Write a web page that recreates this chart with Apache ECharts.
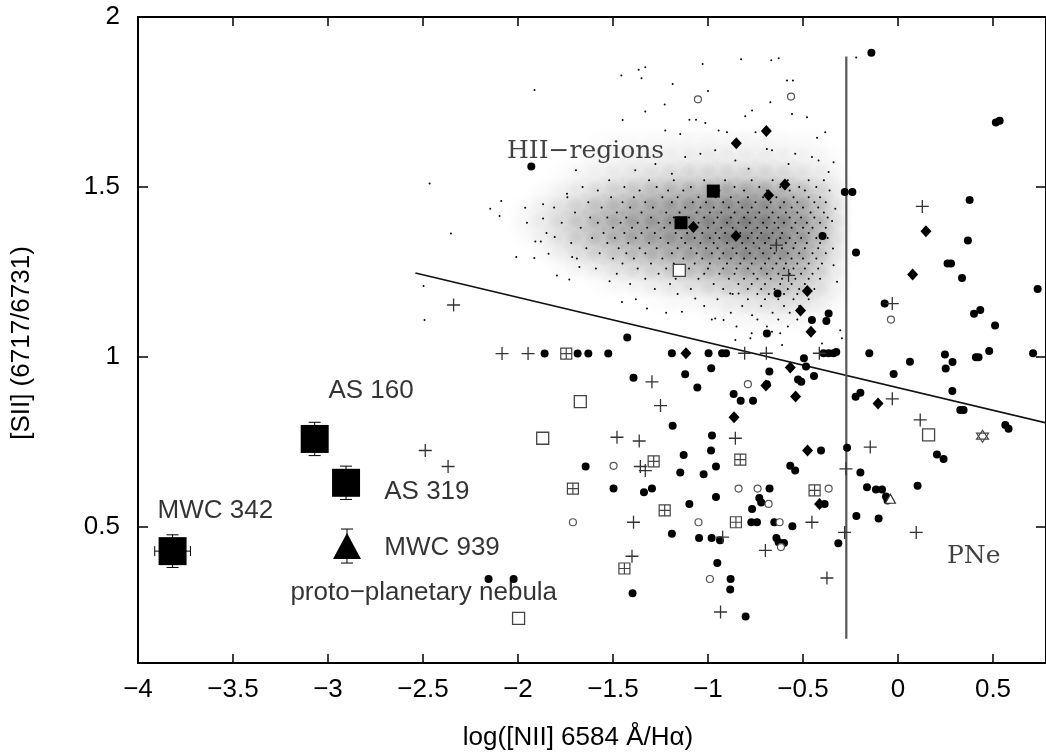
<!DOCTYPE html>
<html>
<head>
<meta charset="utf-8">
<script src="https://cdn.jsdelivr.net/npm/echarts@6/dist/echarts.min.js"></script>
<style>html,body{margin:0;padding:0;background:#fff}#c{width:1046px;height:755px}</style>
</head>
<body>
<div id="c"></div>
<script>
// ---------- data ----------
const xTicks = [-4, -3.5, -3, -2.5, -2, -1.5, -1, -0.5, 0, 0.5];
const yTicks = [0.5, 1, 1.5, 2];

// filled dots
const dots = [[-1.93,1.56],[-0.14,1.895],[0.515,1.69],[0.535,1.695],[-0.28,1.485],[-0.24,1.485],[0.377,1.462],
[0.368,1.343],[-0.221,1.307],[0.261,1.275],[0.279,1.275],[0.337,1.232],[0.735,1.2],[-0.07,1.157],[0.40,1.127],[0.433,1.138],[0.511,1.093],
[-0.151,1.011],[0.063,0.986],[0.247,1.007],[0.287,0.985],[0.251,0.966],[0.41,0.999],[0.424,0.999],[0.48,1.018],[0.711,1.011],[-0.023,0.95],[0.286,0.90],[-0.223,0.883],[-0.198,0.895],[0.328,0.844],[0.345,0.844],[0.565,0.80],[0.582,0.789],[-0.268,0.733],
[0.205,0.713],[0.24,0.70],[-0.198,0.66],[-0.163,0.617],[-0.116,0.61],[-0.084,0.61],[-0.063,0.59],[-0.055,0.578],[0.103,0.621],[-0.219,0.532],[-0.102,0.525],[-0.314,0.452],
[-0.397,1.356],[-0.634,1.187],[-0.365,1.128],[-0.377,1.106],[-0.453,1.109],[-0.69,1.069],[-1.425,1.057],[-1.19,1.011],[-0.997,1.011],[-0.926,1.011],[-0.905,1.011],[-0.392,1.011],[-0.365,1.011],[-0.339,1.011],[-0.325,1.015],[-0.495,0.996],[-0.484,0.972],[-0.442,0.944],[-0.677,0.957],[-0.983,0.967],[-1.392,0.939],[-1.12,0.949],[-1.056,0.91],[-0.69,0.92],[-0.526,0.934],[-0.509,0.927],[-0.865,0.891],[-0.828,0.871],[-0.763,0.871],[-1.186,0.798],[-0.979,0.769],
[-1.86,1.01],[-1.686,1.01],[-1.63,1.01],[-1.525,1.01],
[-1.644,0.678],[-1.497,0.613],[-2.155,0.347],[-2.023,0.347],
[-1.128,0.712],[-0.984,0.725],[-0.567,0.68],[-0.541,0.666],[-0.405,0.725],[-1.146,0.66],[-1.023,0.655],[-0.958,0.678],[-1.337,0.602],[-1.295,0.613],[-0.676,0.613],[-0.958,0.588],[-0.73,0.585],[-0.72,0.572],[-1.098,0.568],[-0.768,0.553],[-0.386,0.568],[-0.772,0.514],[-0.742,0.514],[-0.651,0.514],[-0.556,0.502],[-1.19,0.48],[-1.047,0.468],[-0.981,0.468],[-0.937,0.461],[-0.64,0.468],[-0.628,0.455],[-0.6,0.453],[-0.951,0.394],[-0.881,0.347],[-0.883,0.316],[-1.397,0.305],[-0.802,0.237]];

const diamonds = [[-0.693,1.665],[-0.851,1.629],[-0.595,1.507],[-0.681,1.4755],[-1.077,1.382],[0.147,1.37],[0.077,1.2425],[-0.105,0.863],[-0.853,1.356],[-0.477,1.194],[-0.513,1.137],[-0.458,1.074],[-1.116,1.011],[-0.567,0.969],[-0.695,0.916],[-0.539,0.884],[-0.863,0.823],[-0.476,0.725],[-0.413,0.568]];

const filledSquares = [[-0.972,1.488],[-1.142,1.395]];

const openSquares = [[-1.151,1.255],[0.161,0.771],[-1.672,0.869],[-1.87,0.761],[-1.997,0.231]];

const boxedPlus = [[-1.746,1.01],[-1.711,0.613],[-1.286,0.693],[-0.83,0.698],[-0.439,0.608],[-1.228,0.549],[-0.853,0.514],[-1.44,0.378]];

const openCircles = [[-1.053,1.758],[-0.563,1.766],[-0.037,1.11],[-0.79,0.92],[-1.497,0.68],[-1.711,0.514],[-0.839,0.613],[-0.739,0.613],[-0.365,0.613],[-0.681,0.568],[-1.05,0.514],[-0.623,0.514],[-0.616,0.441],[-0.99,0.347]];

const pluses = [[0.128,1.443],[-0.03,1.157],[-0.03,0.877],[0.117,0.815],[-0.146,0.735],[-0.274,0.671],[-0.281,0.484],[0.096,0.484],[-0.374,0.35],
[-0.64,1.329],[-0.576,1.24],[-0.807,1.011],[-0.693,1.011],[-0.414,1.011],[-1.295,0.927],[-1.25,0.857],[-0.856,0.761],[-1.362,0.753],[-1.479,0.764],
[-2.339,1.153],[-2.084,1.01],[-1.947,1.01],[-2.488,0.725],[-2.368,0.678],
[-1.356,0.678],[-1.33,0.666],[-1.392,0.514],[-0.923,0.47],[-0.698,0.431],[-1.4,0.414],[-0.934,0.25],[-0.453,0.514]];

const stars = [[0.445,0.767]];
const openTriangles = [[-0.04,0.583]];

// objects of this work: [x, y, xErr, yErr]
const bigSquares = [[-3.818,0.429,0.094,0.048],[-3.07,0.759,0,0.049],[-2.905,0.63,0,0.049]];
const bigTriangles = [[-2.9,0.444,0,0.05]];

// dividing lines
const hiiLine = [[-2.54,1.247],[0.78,0.806]];
const pneLine = [[-0.272,0.171],[-0.272,1.8835]];

// labels: [x, y, text]
const sansLabels = [[-3.897,0.549,'MWC 342'],[-2.998,0.901,'AS 160'],[-2.704,0.602,'AS 319'],[-2.704,0.440,'MWC 939'],[-3.198,0.305,'proto\u2212planetary nebula']];
const serifLabels = [[-2.058,1.6055,'HII\u2212regions'],[0.258,0.413,'PNe']];

// HII region cloud: density rows [yCentre, firstXCentre, densities at 0.1 steps]
const cloudDensity = [
 [1.625,-1.55,[0.03,0.05,0.05,0.06,0.06,0.07,0.07,0.07,0.07,0.06,0.05,0.04]],
 [1.575,-1.65,[0.04,0.06,0.08,0.1,0.1,0.12,0.12,0.13,0.13,0.13,0.12,0.1,0.08,0.05]],
 [1.525,-1.75,[0.05,0.08,0.12,0.16,0.2,0.24,0.26,0.28,0.3,0.3,0.3,0.28,0.24,0.18,0.1]],
 [1.475,-1.85,[0.06,0.12,0.2,0.28,0.35,0.42,0.48,0.52,0.56,0.6,0.62,0.62,0.58,0.5,0.38,0.2]],
 [1.425,-1.95,[0.06,0.14,0.25,0.35,0.45,0.52,0.58,0.62,0.66,0.7,0.75,0.78,0.78,0.74,0.65,0.5,0.25]],
 [1.375,-1.95,[0.06,0.14,0.25,0.36,0.46,0.54,0.6,0.65,0.7,0.75,0.8,0.85,0.85,0.82,0.72,0.55,0.28]],
 [1.325,-1.85,[0.08,0.18,0.28,0.36,0.44,0.5,0.56,0.62,0.68,0.74,0.8,0.82,0.78,0.66,0.48,0.24]],
 [1.275,-1.75,[0.06,0.12,0.18,0.25,0.3,0.36,0.42,0.48,0.55,0.62,0.66,0.64,0.55,0.38,0.18]],
 [1.225,-1.55,[0.05,0.08,0.12,0.16,0.2,0.26,0.32,0.38,0.44,0.46,0.4,0.28,0.12]],
 [1.175,-1.25,[0.04,0.06,0.08,0.12,0.16,0.2,0.24,0.24,0.18,0.08]],
 [1.125,-0.95,[0.04,0.06,0.08,0.1,0.1,0.06]]
];

// HII region cloud: individual specks, by row [y, xs]
const cloudRows = [
 [1.52,[-1.52,-1.31,-1.18,-1.02,-0.91,-0.77,-0.66,-0.58,-0.47,-0.39]],
 [1.50,[-1.66,-1.44,-1.27,-1.09,-0.98,-0.86,-0.73,-0.62,-0.52,-0.43]],
 [1.49,[-1.58,-1.36,-1.21,-1.13,-0.94,-0.81,-0.69,-0.57,-0.49,-0.36]],
 [1.47,[-1.74,-1.51,-1.39,-1.24,-1.16,-1.05,-0.96,-0.88,-0.79,-0.71,-0.64,-0.55,-0.47,-0.41]],
 [1.455,[-1.63,-1.45,-1.33,-1.19,-1.08,-1.01,-0.92,-0.84,-0.75,-0.67,-0.6,-0.53,-0.44,-0.38]],
 [1.44,[-1.81,-1.56,-1.41,-1.29,-1.12,-1.04,-0.97,-0.89,-0.82,-0.77,-0.69,-0.62,-0.56,-0.5,-0.42]],
 [1.425,[-1.7,-1.48,-1.35,-1.22,-1.15,-1.06,-0.99,-0.93,-0.86,-0.79,-0.73,-0.66,-0.59,-0.53,-0.46,-0.39]],
 [1.41,[-1.62,-1.53,-1.43,-1.3,-1.18,-1.1,-1.02,-0.95,-0.88,-0.81,-0.75,-0.68,-0.63,-0.57,-0.51,-0.44,-0.37]],
 [1.395,[-1.77,-1.58,-1.46,-1.37,-1.26,-1.2,-1.13,-1.05,-0.97,-0.9,-0.84,-0.78,-0.71,-0.65,-0.6,-0.54,-0.48,-0.41]],
 [1.38,[-1.67,-1.5,-1.4,-1.32,-1.23,-1.08,-1.0,-0.93,-0.87,-0.8,-0.74,-0.69,-0.63,-0.56,-0.5,-0.45,-0.38]],
 [1.365,[-1.85,-1.55,-1.44,-1.35,-1.28,-1.17,-1.11,-1.03,-0.96,-0.91,-0.83,-0.77,-0.72,-0.66,-0.61,-0.53,-0.47,-0.4]],
 [1.35,[-1.61,-1.49,-1.38,-1.25,-1.14,-1.07,-0.99,-0.94,-0.86,-0.79,-0.74,-0.68,-0.62,-0.57,-0.51,-0.43,-0.37]],
 [1.335,[-1.72,-1.53,-1.42,-1.31,-1.21,-1.12,-1.04,-0.97,-0.9,-0.82,-0.76,-0.7,-0.64,-0.59,-0.54,-0.48,-0.41]],
 [1.32,[-1.64,-1.47,-1.36,-1.27,-1.16,-1.09,-1.01,-0.95,-0.87,-0.8,-0.73,-0.67,-0.61,-0.55,-0.49,-0.42]],
 [1.305,[-1.57,-1.43,-1.33,-1.19,-1.06,-0.98,-0.92,-0.85,-0.78,-0.71,-0.65,-0.58,-0.52,-0.45,-0.38]],
 [1.29,[-1.69,-1.5,-1.39,-1.24,-1.13,-1.03,-0.94,-0.88,-0.81,-0.75,-0.68,-0.62,-0.56,-0.5,-0.43]],
 [1.275,[-1.45,-1.3,-1.18,-1.07,-0.99,-0.9,-0.83,-0.77,-0.7,-0.64,-0.59,-0.53,-0.47,-0.4]],
 [1.26,[-1.59,-1.37,-1.22,-1.1,-1.0,-0.92,-0.85,-0.79,-0.72,-0.66,-0.6,-0.55,-0.49,-0.42]],
 [1.245,[-1.48,-1.26,-1.14,-1.02,-0.94,-0.86,-0.76,-0.69,-0.63,-0.57,-0.51,-0.45]],
 [1.23,[-1.33,-1.17,-1.05,-0.89,-0.81,-0.74,-0.67,-0.61,-0.54,-0.47,-0.41]],
 [1.215,[-1.41,-1.2,-0.97,-0.84,-0.77,-0.7,-0.62,-0.56,-0.49]],
 [1.2,[-1.28,-1.09,-0.92,-0.79,-0.72,-0.65,-0.58,-0.52,-0.44]],
 [1.185,[-1.16,-0.87,-0.74,-0.68,-0.6,-0.53]],
 [1.17,[-1.38,-0.95,-0.79,-0.7,-0.63,-0.55,-0.47]],
 [1.15,[-1.02,-0.82,-0.72,-0.6,-0.52]],
 [1.13,[-1.22,-0.88,-0.66,-0.57]],
 [1.11,[-0.98,-0.74,-0.63,-0.53]],
 [1.09,[-0.85,-0.69,-0.58]],
 [1.07,[-0.77,-0.62]]
];

const haloDots = [[-1.913,1.785],[-2.465,1.51],[-2.088,1.459],[-2.146,1.436],[-2.097,1.415],[-1.962,1.439],[-1.953,1.395],[-1.868,1.449],[-1.868,1.407],[-1.742,1.48],[-1.695,1.549],[-2.353,1.363],[-2.009,1.294],[-1.914,1.291],[-1.839,1.304],[-1.909,1.34],[-1.88,1.34],[-1.807,1.353],[-1.795,1.24],[-1.73,1.228],[-1.677,1.265],[-1.715,1.294],[-1.518,1.223],[-2.497,1.209],[-2.492,1.109],
[-1.456,1.828],[-1.365,1.845],[-1.33,1.852],[-1.35,1.82],[-1.186,1.803],[-1.028,1.862],[-0.826,1.876],[-0.667,1.873],[-0.628,1.879],[-0.584,1.813],[-0.553,1.813],[-0.479,1.705],[-1.228,1.743],[-1.33,1.722],[-1.449,1.697],[-1.098,1.698],[-1.063,1.698],[-1.0,1.782],[-1.014,1.688],[-0.768,1.725],[-0.804,1.708],[-0.672,1.749],[-0.558,1.715],[-0.426,1.645],[-0.383,1.661],[-1.146,1.656],[-1.225,1.666],[-0.944,1.666],[-0.9,1.661],[-1.04,1.598],[-0.962,1.608],[-0.75,1.661],[-0.69,1.612],[-0.663,1.608],[-0.541,1.598],[-0.453,1.588],[-1.12,1.588],[-1.383,1.549],[-1.277,1.568],[-1.19,1.539],[-0.856,1.578],[-0.786,1.554],[-0.576,1.568],[-0.418,1.578],[-0.365,1.544],
[-0.339,1.573],[-0.33,1.436],[-0.347,1.4],[-0.22,1.881],[-0.342,1.319],[-0.339,1.27],[-0.321,1.221],[-0.304,1.079],[-0.295,1.055],
[-0.856,1.05],[-0.777,1.055],[-0.663,1.074],[-0.61,1.035],[-0.4,1.04],[-1.453,1.162],[-1.321,1.143],[-1.137,1.133],[-1.067,1.172],[-0.962,1.113],[-0.918,1.109],[-0.883,1.187],[-0.839,1.187],[-0.768,1.123]];

// ---------- build ----------
function blob(a) {
  return {type: 'radial', x: 0.5, y: 0.5, r: 0.5, colorStops: [
    {offset: 0, color: 'rgba(0,0,0,' + a.toFixed(3) + ')'},
    {offset: 0.5, color: 'rgba(0,0,0,' + (a * 0.6).toFixed(3) + ')'},
    {offset: 1, color: 'rgba(0,0,0,0)'}]};
}
const cloudCells = [];
cloudDensity.forEach(([y, x0, ds]) => ds.forEach((d, i) => cloudCells.push({value: [x0 + 0.1 * i, y], itemStyle: {color: blob(d * 0.42)}})));
const specks = haloDots.slice();
cloudRows.forEach(([y, xs]) => xs.forEach(x => specks.push([x, y])));

const SANS = '"Liberation Sans", Arial, Helvetica, sans-serif';
const SERIF = '"DejaVu Serif", serif';
const fmt = v => String(v).replace('-', '\u2212');

const PLUS = 'path://M5,0L5,10M0,5L10,5';
const BOXPLUS = 'path://M0,0L10,0L10,10L0,10Z M5,0L5,10 M0,5L10,5';
const STAR = 'path://M5,0L9.33,7.5L0.67,7.5Z M5,10L0.67,2.5L9.33,2.5Z';

function scatter(data, symbol, size, style, z) {
  return {type: 'scatter', data, symbol, symbolSize: size, itemStyle: Object.assign({opacity: 1}, style), z: z || 5, silent: true};
}

const errorBars = {
  type: 'custom', z: 6, silent: true,
  data: bigSquares.concat(bigTriangles),
  renderItem: function (params, api) {
    const x = api.value(0), y = api.value(1), ex = api.value(2), ey = api.value(3);
    const ch = [];
    const st = {stroke: '#000', lineWidth: 1};
    if (ey > 0) {
      const a = api.coord([x, y - ey]), b = api.coord([x, y + ey]);
      ch.push({type: 'line', shape: {x1: a[0], y1: a[1], x2: b[0], y2: b[1]}, style: st});
      ch.push({type: 'line', shape: {x1: a[0] - 6, y1: a[1], x2: a[0] + 6, y2: a[1]}, style: st});
      ch.push({type: 'line', shape: {x1: b[0] - 6, y1: b[1], x2: b[0] + 6, y2: b[1]}, style: st});
    }
    if (ex > 0) {
      const a = api.coord([x - ex, y]), b = api.coord([x + ex, y]);
      ch.push({type: 'line', shape: {x1: a[0], y1: a[1], x2: b[0], y2: b[1]}, style: st});
      ch.push({type: 'line', shape: {x1: a[0], y1: a[1] - 5, x2: a[0], y2: a[1] + 5}, style: st});
      ch.push({type: 'line', shape: {x1: b[0], y1: b[1] - 5, x2: b[0], y2: b[1] + 5}, style: st});
    }
    return {type: 'group', children: ch};
  }
};

function labelSeries(list, family, size, color) {
  return {
    type: 'scatter', silent: true, z: 10, symbolSize: 0,
    data: list.map(l => ({value: [l[0], l[1]], name: l[2]})),
    label: {show: true, position: 'inside', align: 'left', verticalAlign: 'middle',
      formatter: p => p.name, fontFamily: family, fontSize: size, color: color}
  };
}

const hiddenLabel = {color: 'rgba(0,0,0,0)', fontSize: 10};

const chart = echarts.init(document.getElementById('c'), null, {renderer: 'canvas'});
chart.setOption({
  animation: false,
  backgroundColor: '#fff',
  grid: {left: 138, right: 0, top: 17, bottom: 92, containLabel: false, outerBoundsMode: 'none'},
  xAxis: [{
    type: 'value', min: -4, max: 0.779, position: 'bottom',
    axisLine: {onZero: false, lineStyle: {color: '#000', width: 2}},
    axisTick: {inside: true, length: 9, customValues: xTicks, lineStyle: {color: '#000', width: 1.5}},
    axisLabel: {customValues: xTicks, formatter: fmt, fontFamily: SANS, fontSize: 26, color: '#000', margin: 14},
    splitLine: {show: false}
  }, {
    type: 'value', min: -4, max: 0.779, position: 'top',
    axisLine: {onZero: false, lineStyle: {color: '#000', width: 2}},
    axisTick: {show: true, inside: true, length: 9, customValues: xTicks, lineStyle: {color: '#000', width: 1.5}},
    axisLabel: Object.assign({}, hiddenLabel, {customValues: xTicks}), splitLine: {show: false}
  }],
  yAxis: [{
    type: 'value', min: 0.1, max: 2, position: 'left',
    axisLine: {show: true, onZero: false, lineStyle: {color: '#000', width: 2}},
    axisTick: {show: true, inside: true, length: 10, customValues: yTicks, lineStyle: {color: '#000', width: 1.5}},
    axisLabel: {customValues: yTicks, formatter: fmt, fontFamily: SANS, fontSize: 26, color: '#000', margin: 18},
    splitLine: {show: false}
  }, {
    type: 'value', min: 0.1, max: 2, position: 'right',
    axisLine: {show: true, onZero: false, lineStyle: {color: '#000', width: 2}},
    axisTick: {show: true, inside: true, length: 10, customValues: yTicks, lineStyle: {color: '#000', width: 1.5}},
    axisLabel: Object.assign({}, hiddenLabel, {customValues: yTicks}), splitLine: {show: false}
  }],
  graphic: [
    {type: 'text', x: 578, y: 738, silent: true, style: {text: 'log([NII] 6584 \u00c5/H\u03b1)', align: 'center', verticalAlign: 'middle', font: '26px ' + SANS, fill: '#000'}},
    {type: 'text', x: 22, y: 343, rotation: Math.PI / 2, silent: true, style: {text: '[SII] (6717/6731)', align: 'center', verticalAlign: 'middle', font: '26px ' + SANS, fill: '#000'}}
  ],
  series: [
    scatter(cloudCells, 'circle', [44, 40], {}, 1),
    scatter(specks, 'circle', 2, {color: '#000'}, 2),
    {type: 'line', data: hiiLine, symbol: 'none', z: 3, silent: true, lineStyle: {color: '#111', width: 1.6}},
    {type: 'line', data: pneLine, symbol: 'none', z: 3, silent: true, lineStyle: {color: '#555', width: 2.2}},
    scatter(dots, 'circle', 8, {color: '#000'}),
    scatter(diamonds, 'diamond', [11, 12], {color: '#000'}),
    scatter(filledSquares, 'rect', 13, {color: '#000'}),
    scatter(openSquares, 'rect', 12, {color: '#fff', borderColor: '#444', borderWidth: 1.3}),
    scatter(boxedPlus, BOXPLUS, 11, {color: '#fff', borderColor: '#444', borderWidth: 1.2}),
    scatter(openCircles, 'circle', 7, {color: '#fff', borderColor: '#555', borderWidth: 1.2}),
    scatter(pluses, PLUS, 13, {color: 'none', borderColor: '#333', borderWidth: 1.3}),
    scatter(stars, STAR, 12, {color: 'none', borderColor: '#444', borderWidth: 1.2}),
    scatter(openTriangles, 'triangle', [10, 9], {color: '#fff', borderColor: '#333', borderWidth: 1.2}),
    errorBars,
    scatter(bigSquares.map(d => [d[0], d[1]]), 'rect', 28, {color: '#000'}, 7),
    scatter(bigTriangles.map(d => [d[0], d[1]]), 'triangle', [28, 26], {color: '#000'}, 7),
    labelSeries(sansLabels, SANS, 26, '#000'),
    labelSeries(serifLabels, SERIF, 25, '#111')
  ]
});
</script>
</body>
</html>
